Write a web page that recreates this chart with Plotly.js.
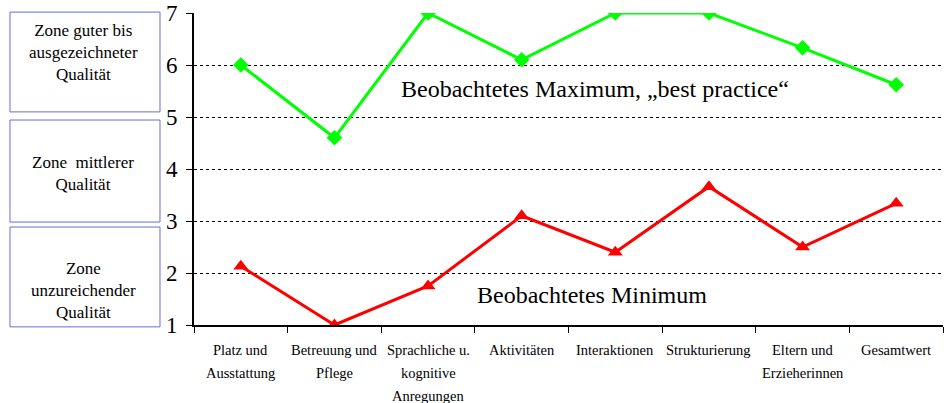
<!DOCTYPE html>
<html><head><meta charset="utf-8">
<script src="https://cdn.plot.ly/plotly-3.0.1.min.js"></script>
<style>html,body{margin:0;padding:0;background:#fff}#c{width:944px;height:403px}</style>
</head><body><div id="c"></div>
<script>
const categories = ["Platz und<br>Ausstattung","Betreuung und<br>Pflege","Sprachliche u.<br>kognitive<br>Anregungen","Aktivitäten","Interaktionen","Strukturierung","Eltern und<br>Erzieherinnen","Gesamtwert"];
const maxValues = [6.0, 4.6, 7.0, 6.1, 7.0, 7.0, 6.33, 5.62];
const minValues = [2.13, 1.0, 1.75, 3.1, 2.4, 3.66, 2.5, 3.34];
const yTicks = [1,2,3,4,5,6,7];
const zoneLabels = ["Zone guter bis<br>ausgezeichneter<br>Qualität","Zone  mittlerer<br>Qualität","Zone<br>unzureichender<br>Qualität"];
const seriesLabels = ["Beobachtetes Maximum, „best practice“","Beobachtetes Minimum"];

const serif = "'Liberation Serif', 'Times New Roman', serif";
const traces = [
  {x: categories, y: maxValues, type: "scatter", mode: "lines+markers",
   line: {color: "#00ff00", width: 3}, marker: {symbol: "diamond", size: 12, color: "#00ff00"}},
  {x: categories, y: minValues, type: "scatter", mode: "lines+markers",
   line: {color: "#ff0000", width: 3}, marker: {symbol: "triangle-up", size: 13, color: "#ff0000"}}
];
const boxColor = "#6a6ad8";
const boxes = [[1.003,0.683],[0.657,0.330],[0.314,-0.006]];
const bx0 = -0.2457, bx1 = -0.0454;
const shapes = boxes.map(b => ({type:"rect", xref:"paper", yref:"paper", x0:bx0, x1:bx1, y0:b[1], y1:b[0], line:{color:boxColor, width:1}}));
const zoneY = [0.875, 0.486, 0.112];
const annotations = zoneLabels.map((t,i) => ({xref:"paper", yref:"paper", x:-0.148, y:zoneY[i], xanchor:"center", yanchor:"middle",
  text:t, showarrow:false, font:{family:serif, size:17, color:"#000"}, align:"center"}));
annotations.push({xref:"paper", yref:"paper", x:0.535, y:0.755, xanchor:"center", yanchor:"middle", text:seriesLabels[0], showarrow:false, font:{family:serif, size:24, color:"#000"}});
annotations.push({xref:"paper", yref:"paper", x:0.531, y:0.096, xanchor:"center", yanchor:"middle", text:seriesLabels[1], showarrow:false, font:{family:serif, size:24, color:"#000"}});
// category labels, one annotation per line for the reference's line spacing
categories.forEach(c => {
  c.split("<br>").forEach((line, i) => {
    annotations.push({xref:"x", yref:"paper", x:c, y:0, yanchor:"middle", xanchor:"center", yshift:-25 - i*23,
      text:line, showarrow:false, font:{family:serif, size:14.5, color:"#000"}});
  });
});

const layout = {
  width: 944, height: 403,
  margin: {l:194, r:1, t:13, b:78},
  paper_bgcolor: "#fff", plot_bgcolor: "#fff",
  showlegend: false,
  xaxis: {type:"category", tickson:"boundaries", ticks:"outside", ticklen:6, tickcolor:"#000", tickwidth:1,
          showline:true, linecolor:"#000", linewidth:2, showgrid:false, zeroline:false, showticklabels:false,
          range:[-0.5,7.5], fixedrange:true},
  yaxis: {range:[1,7], tickvals:yTicks, ticks:"outside", ticklen:6, tickcolor:"#000",
          showline:true, linecolor:"#000", linewidth:2, showgrid:true, gridcolor:"#000", gridwidth:1, griddash:"dot",
          zeroline:false, tickfont:{family:serif, size:23, color:"#000"}, ticklabelstandoff:4, fixedrange:true},
  shapes: shapes, annotations: annotations
};
Plotly.newPlot("c", traces, layout, {staticPlot:true, displayModeBar:false});
</script></body></html>
